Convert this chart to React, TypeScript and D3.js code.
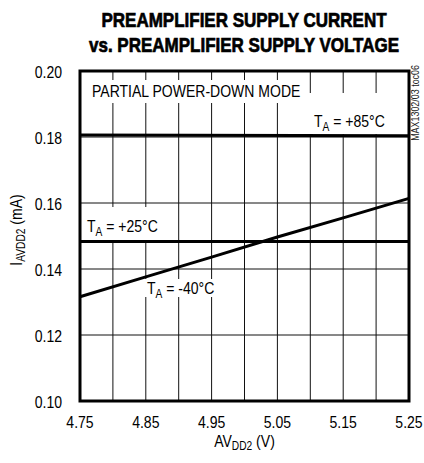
import React from "react";
import * as d3 from "d3";

const xTicks = [4.75, 4.85, 4.95, 5.05, 5.15, 5.25];
const yTicks = [0.1, 0.12, 0.14, 0.16, 0.18, 0.2];

const voltage85 = [4.75, 5.25];
const current85 = [0.1806, 0.1804];
const voltage25 = [4.75, 5.25];
const current25 = [0.1483, 0.1483];
const voltageM40 = [4.75, 4.85, 4.95, 5.05, 5.15, 5.25];
const currentM40 = [0.1316, 0.1376, 0.1436, 0.1497, 0.1555, 0.1614];

const font = "'Liberation Sans', Arial, sans-serif";
const SX = 0.85; // condensed look

// text squeezed horizontally to mimic a condensed face
const T: React.FC<{
  x: number;
  y: number;
  size: number;
  anchor?: string;
  bold?: boolean;
  rotate?: number;
  fill?: string;
  children: React.ReactNode;
}> = ({ x, y, size, anchor = "start", bold, rotate = 0, fill = "#000", children }) => (
  <text
    transform={`translate(${x},${y}) rotate(${rotate}) scale(${SX},1)`}
    textAnchor={anchor}
    fontFamily={font}
    fontSize={size}
    fontWeight={bold ? "bold" : "normal"}
    fill={fill}
    stroke={bold ? fill : "none"}
    strokeWidth={bold ? 0.7 : 0}
  >
    {children}
  </text>
);

const App: React.FC = () => {
  const width = 424;
  const height = 463;
  const margin = { top: 71, left: 80 };
  const w = 409 - margin.left;
  const h = 401 - margin.top;

  const x = d3.scaleLinear().domain([4.75, 5.25]).range([0, w]);
  const y = d3.scaleLinear().domain([0.1, 0.2]).range([h, 0]);

  const xGrid = d3.range(0, 11).map((i) => 4.75 + i * 0.05);
  const yGrid = d3.range(0, 6).map((i) => 0.1 + i * 0.02);

  const line = d3
    .line<[number, number]>()
    .x((d) => x(d[0]))
    .y((d) => y(d[1]));

  const series = [
    voltage85.map((v, i) => [v, current85[i]] as [number, number]),
    voltage25.map((v, i) => [v, current25[i]] as [number, number]),
    voltageM40.map((v, i) => [v, currentM40[i]] as [number, number]),
  ];

  const sub = (s: string) => (
    <tspan fontSize={12} dy={4}>{s}</tspan>
  );

  return (
    <svg width={width} height={height} style={{ position: "absolute", left: 0, top: 0 }}>
      <rect width={width} height={height} fill="#fff" />
      <T x={244} y={27} size={20} bold anchor="middle">PREAMPLIFIER SUPPLY CURRENT</T>
      <T x={244} y={52} size={20} bold anchor="middle">vs. PREAMPLIFIER SUPPLY VOLTAGE</T>

      <g transform={`translate(${margin.left},${margin.top})`}>
        {xGrid.map((v, i) => (
          <line key={"gx" + i} x1={x(v)} x2={x(v)} y1={0} y2={h} stroke="#111" strokeWidth={1} />
        ))}
        {yGrid.map((v, i) => (
          <line key={"gy" + i} x1={0} x2={w} y1={y(v)} y2={y(v)} stroke="#111" strokeWidth={1} />
        ))}

        {/* label boxes covering grid */}
        <rect x={2} y={9} width={220} height={23} fill="#fff" />
        <rect x={228} y={22} width={100} height={41} fill="#fff" />
        <rect x={2} y={136} width={88} height={34} fill="#fff" />
        <rect x={63} y={208} width={76} height={18} fill="#fff" />

        {series.map((s, i) => (
          <path key={"s" + i} d={line(s) || ""} fill="none" stroke="#000" strokeWidth={3} />
        ))}

        <rect x={0} y={0} width={w} height={h} fill="none" stroke="#000" strokeWidth={3} />

        <T x={12} y={26} size={16.5}>PARTIAL POWER-DOWN MODE</T>
        <T x={234} y={56} size={16.5}>
          T{sub("A")}<tspan dy={-4}> = +85°C</tspan>
        </T>
        <T x={7} y={161} size={16.5}>
          T{sub("A")}<tspan dy={-4}> = +25°C</tspan>
        </T>
        <T x={67} y={223} size={16.5}>
          T{sub("A")}<tspan dy={-4}> = -40°C</tspan>
        </T>

        {yTicks.map((v) => (
          <T key={"yt" + v} x={-18} y={y(v) + 7} size={16.5} anchor="end">
            {v.toFixed(2)}
          </T>
        ))}
        {xTicks.map((v) => (
          <T key={"xt" + v} x={x(v)} y={h + 27} size={16.5} anchor="middle">
            {v.toFixed(2)}
          </T>
        ))}
        <T x={w / 2} y={h + 46} size={16.5} anchor="middle">
          AV<tspan fontSize={12} dy={3}>DD2</tspan>
          <tspan dy={-3}> (V)</tspan>
        </T>
        <T x={-58} y={159} size={16.5} anchor="middle" rotate={-90}>
          I<tspan fontSize={12} dy={3}>AVDD2</tspan>
          <tspan dy={-3}> (mA)</tspan>
        </T>
        <T x={w + 10} y={-6} size={10.5} anchor="end" rotate={-90} fill="#222">
          MAX1302/03 toc06
        </T>
      </g>
    </svg>
  );
};

export default App;
